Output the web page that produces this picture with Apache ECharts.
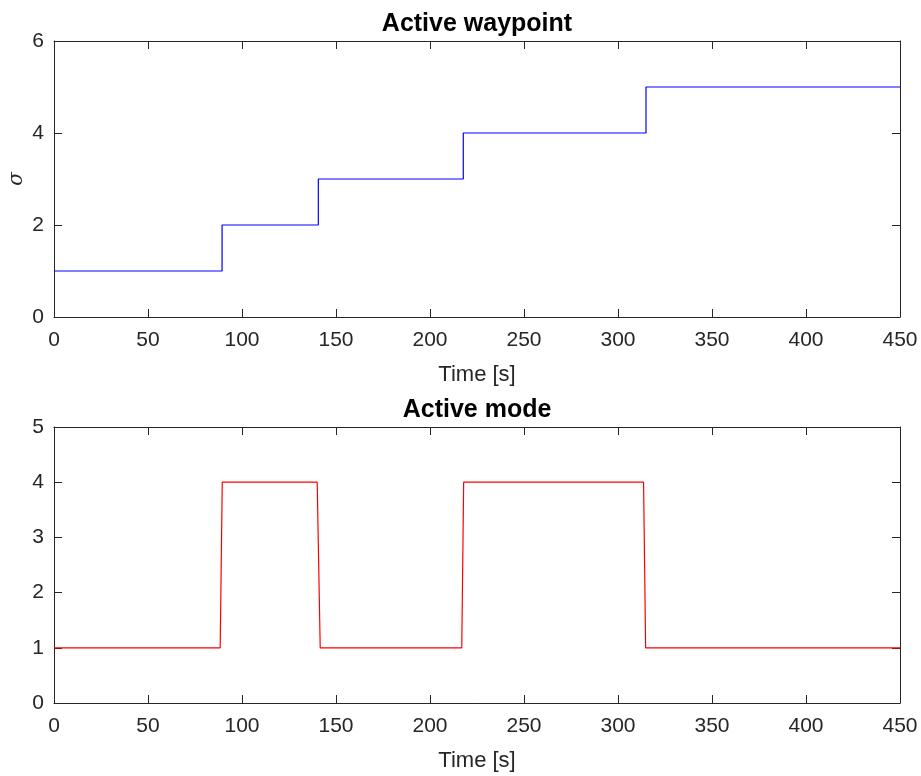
<!DOCTYPE html>
<html>
<head>
<meta charset="utf-8">
<title>Active waypoint / Active mode</title>
<script src="https://cdn.jsdelivr.net/npm/echarts@6/dist/echarts.min.js"></script>
<style>
  html, body { margin: 0; padding: 0; background: #ffffff; }
  #chart { width: 921px; height: 776px; }
</style>
</head>
<body>
<div id="chart"></div>
<script>
// Active waypoint index over time (value holds until the next change time)
const waypointTime  = [0, 89.4, 140.6, 217.7, 314.9, 450];
const waypointIndex = [1, 2, 3, 4, 5, 5];

// Active mode samples over time
const modeTime  = [0, 88.4, 89.5, 140.0, 141.6, 216.9, 217.9, 313.6, 314.7, 450];
const modeValue = [1, 1, 4, 4, 1, 1, 4, 4, 1, 1];

const timeTicks = [0, 50, 100, 150, 200, 250, 300, 350, 400, 450];
const waypointTicks = [0, 2, 4, 6];
const modeTicks = [0, 1, 2, 3, 4, 5];

const FONT = 'Liberation Sans, Arial, Helvetica, sans-serif';
const INK = '#262626';

const zip = (xs, ys) => xs.map((x, i) => [x, ys[i]]);

function xAxisPair(gridIndex) {
  const base = {
    type: 'value',
    gridIndex: gridIndex,
    min: timeTicks[0],
    max: timeTicks[timeTicks.length - 1],
    interval: timeTicks[1] - timeTicks[0],
    splitLine: { show: false },
    axisLine: { show: true, onZero: false, lineStyle: { color: INK, width: 1 } },
    axisTick: { show: true, inside: true, length: 8, lineStyle: { color: INK, width: 1 } }
  };
  return [
    Object.assign({}, base, {
      position: 'bottom',
      name: 'Time [s]',
      nameLocation: 'middle',
      nameGap: 47,
      nameMoveOverlap: false,
      nameTextStyle: { fontFamily: FONT, fontSize: 22, color: INK },
      axisLabel: { show: true, margin: 13, fontFamily: FONT, fontSize: 21, color: INK }
    }),
    Object.assign({}, base, {
      position: 'top',
      axisLabel: { show: false }
    })
  ];
}

function yAxisPair(gridIndex, ticks, name) {
  const base = {
    type: 'value',
    gridIndex: gridIndex,
    min: ticks[0],
    max: ticks[ticks.length - 1],
    interval: ticks[1] - ticks[0],
    splitLine: { show: false },
    axisLine: { show: true, onZero: false, lineStyle: { color: INK, width: 1 } },
    axisTick: { show: true, inside: true, length: 8, lineStyle: { color: INK, width: 1 } }
  };
  return [
    Object.assign({}, base, {
      position: 'left',
      name: name,
      nameLocation: 'middle',
      nameGap: 27,
      nameMoveOverlap: false,
      nameRotate: 90,
      nameTextStyle: { fontFamily: 'DejaVu Serif, serif', fontStyle: 'italic', fontSize: 20, color: INK },
      axisLabel: { show: true, margin: 10, fontFamily: FONT, fontSize: 21, color: INK }
    }),
    Object.assign({}, base, {
      position: 'right',
      axisLabel: { show: false }
    })
  ];
}

const chart = echarts.init(document.getElementById('chart'), null, { renderer: 'canvas' });

chart.setOption({
  animation: false,
  backgroundColor: '#ffffff',
  title: [
    {
      text: 'Active waypoint',
      left: 472, top: 7, textAlign: 'center',
      textStyle: { fontFamily: FONT, fontSize: 25, fontWeight: 'bold', color: '#000000' }
    },
    {
      text: 'Active mode',
      left: 472, top: 393, textAlign: 'center',
      textStyle: { fontFamily: FONT, fontSize: 25, fontWeight: 'bold', color: '#000000' }
    }
  ],
  grid: [
    { left: 54, top: 41, width: 846, height: 276, containLabel: false, outerBoundsMode: 'none' },
    { left: 54, top: 427, width: 846, height: 276, containLabel: false, outerBoundsMode: 'none' }
  ],
  xAxis: [...xAxisPair(0), ...xAxisPair(1)],
  yAxis: [...yAxisPair(0, waypointTicks, 'σ'), ...yAxisPair(1, modeTicks, '')],
  series: [
    {
      type: 'line',
      xAxisIndex: 0, yAxisIndex: 0,
      data: zip(waypointTime, waypointIndex),
      step: 'end',
      showSymbol: false,
      lineStyle: { color: '#0000ff', width: 1.2 }
    },
    {
      type: 'line',
      xAxisIndex: 2, yAxisIndex: 2,
      data: zip(modeTime, modeValue),
      showSymbol: false,
      lineStyle: { color: '#ff0000', width: 1.2 }
    }
  ]
});
</script>
</body>
</html>
